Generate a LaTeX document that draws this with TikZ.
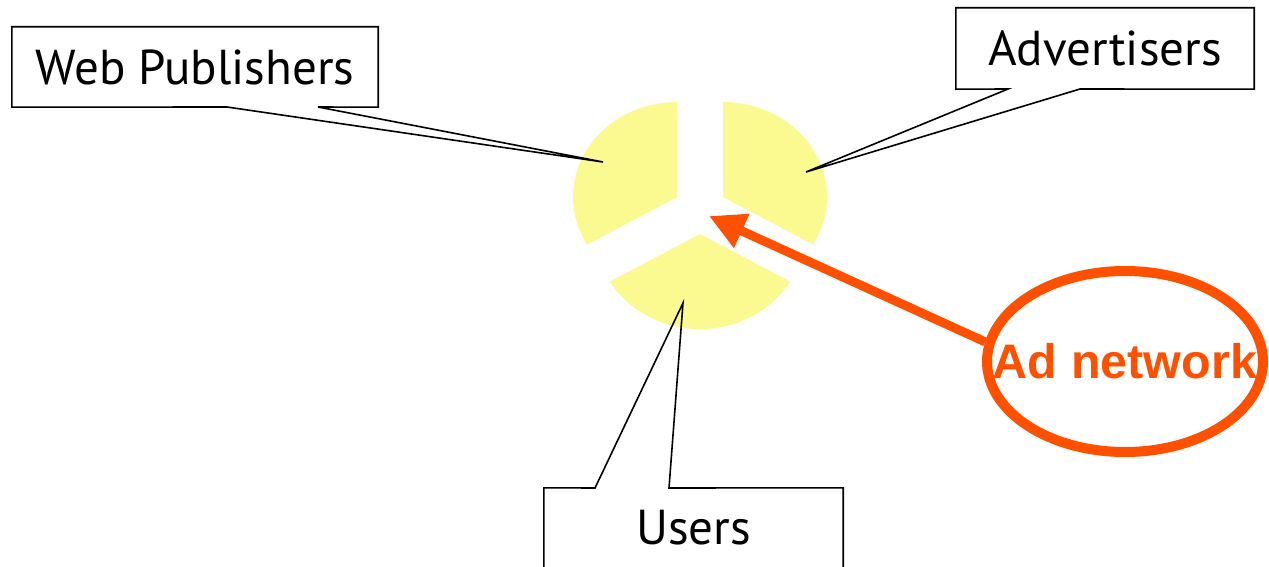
\documentclass[tikz,border=0pt]{standalone}
\usepackage{fontspec}
\setmainfont{PT Sans}
\newfontfamily\adfont{Liberation Sans}
\usetikzlibrary{shapes.geometric,arrows.meta}

\definecolor{pieyellow}{RGB}{250,250,145}
\definecolor{adorange}{RGB}{255,80,0}

\begin{document}
\begin{tikzpicture}[x=1pt, y=1pt,
  box/.style = {inner sep=0, font=\fontsize{49}{58}\selectfont},
  callline/.style = {draw, line width=1.6pt, line join=miter},
  adnet/.style = {draw=adorange, ellipse, line width=10pt, inner xsep=-40pt, inner ysep=0,
    minimum width=276pt, minimum height=181pt, text=adorange,
    font=\adfont\bfseries\fontsize{48.5}{58}\selectfont},
  adarrow/.style = {draw=adorange, line width=9pt,
    -{Triangle[length=36pt, width=35pt]}}]
\useasboundingbox (0,0) rectangle (1269,-567);

% pie, three pieces pulled apart
\fill[pieyellow] (677,-197) -- ++(90:104 and 95) arc[start angle=90, end angle=210, x radius=104, y radius=95] -- cycle;
\fill[pieyellow] (723,-197) -- ++(90:104 and 95) arc[start angle=90, end angle=-30, x radius=104, y radius=95] -- cycle;
\fill[pieyellow] (700,-234) -- ++(210:104 and 95) arc[start angle=210, end angle=330, x radius=104, y radius=95] -- cycle;

% callout tips
\coordinate (wptip) at (603,-162);
\coordinate (advtip) at (806,-172);
\coordinate (usrtip) at (683,-303);
\coordinate (arrtip) at (709,-216);

\node[box, minimum width=366pt, minimum height=80pt] (wp) at (195,-67) {Web Publishers};
\node[box, minimum width=298pt, minimum height=81pt] (adv) at (1105,-48.5) {Advertisers};
\node[box, minimum width=299pt, minimum height=80pt] (usr) at (693.5,-528) {Users};

\draw[callline] (227,-107) -- (wp.south west) -- (wp.north west) -- (wp.north east) -- (wp.south east) -- (318,-107) -- (wptip) -- cycle;
\draw[callline] (1080,-89) -- (adv.south east) -- (adv.north east) -- (adv.north west) -- (adv.south west) -- (1008,-89) -- (advtip) -- cycle;
\draw[callline] (595,-488) -- (usr.north west) -- (usr.south west) -- (usr.south east) -- (usr.north east) -- (669,-488) -- (usrtip) -- cycle;

% ad network
\node[adnet] (an) at (1125,-361.5) {Ad network};
\draw[adarrow] (an.172) -- (arrtip);

\end{tikzpicture}
\end{document}
